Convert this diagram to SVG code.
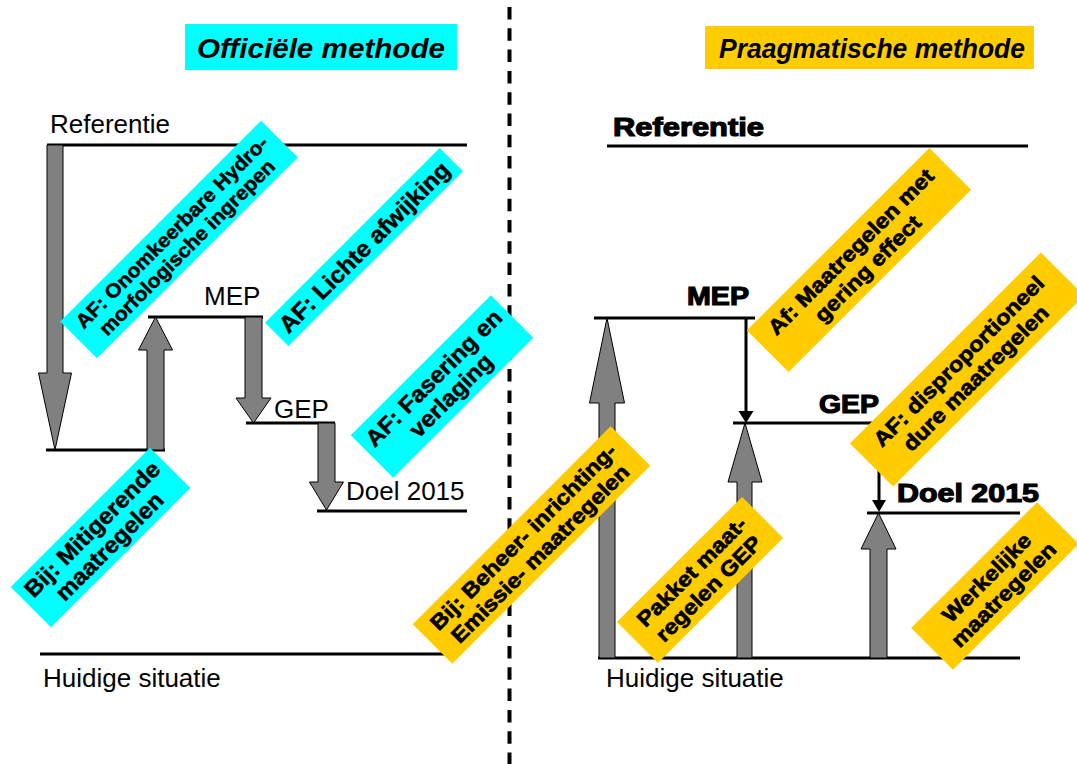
<svg xmlns="http://www.w3.org/2000/svg" width="1077" height="764" viewBox="0 0 1077 764">
  <style>
    .lvl { stroke: #000; stroke-width: 3; fill: none; }
    .thin { stroke: #000; stroke-width: 3; fill: none; }
    .gray { fill: #808080; stroke: #000; stroke-width: 1; }
    .cyan { fill: #00FFFF; }
    .yellow { fill: #FFCC00; }
    .txt { font-family: "Liberation Sans", Arial, sans-serif; font-size: 26px; fill: #000; }
    .head { font-family: "Liberation Sans", Arial, sans-serif; font-size: 26px; font-weight: bold; fill: #000; stroke: #000; stroke-width: 1.2; }
    .title { font-family: "Liberation Sans", Arial, sans-serif; font-size: 27px; font-weight: bold; font-style: italic; fill: #000; }
    .lbl { font-family: "Liberation Sans", Arial, sans-serif; font-weight: bold; fill: #000; stroke: #000; stroke-width: 0.5; text-anchor: middle; }
    .lblR { font-family: "Liberation Sans", Arial, sans-serif; font-weight: bold; font-size: 21px; fill: #000; stroke: #000; stroke-width: 0.7; text-anchor: middle; }
  </style>

  <!-- divider between the two methods -->
  <line x1="509.5" y1="7" x2="509.5" y2="764" stroke="#000" stroke-width="4" stroke-dasharray="12.5 8.8"/>

  <!-- titles -->
  <g id="title-officieel">
    <rect class="cyan" x="185" y="24" width="272" height="46"/>
    <text class="title" x="321" y="58" text-anchor="middle" textLength="248" lengthAdjust="spacingAndGlyphs">Officiële methode</text>
  </g>
  <g id="title-praagmatisch">
    <rect class="yellow" x="705" y="26" width="329" height="43"/>
    <text class="title" x="872" y="58" text-anchor="middle" textLength="306" lengthAdjust="spacingAndGlyphs">Praagmatische methode</text>
  </g>

  <!-- levels, left -->
  <g id="levels-left">
    <line class="lvl" x1="47" y1="145" x2="467" y2="145"/>
    <line class="lvl" x1="46" y1="450" x2="165" y2="450"/>
    <line class="lvl" x1="148" y1="317" x2="263" y2="317"/>
    <line class="lvl" x1="246" y1="423" x2="335" y2="423"/>
    <line class="lvl" x1="317" y1="511" x2="467" y2="511"/>
    <line class="lvl" x1="40" y1="654" x2="447" y2="654"/>
    <text class="txt" x="50" y="133">Referentie</text>
    <text class="txt" x="204" y="305">MEP</text>
    <text class="txt" x="274" y="418">GEP</text>
    <text class="txt" x="346" y="500">Doel 2015</text>
    <text class="txt" x="43" y="687">Huidige situatie</text>
  </g>

  <!-- levels, right -->
  <g id="levels-right">
    <line class="lvl" x1="607" y1="146" x2="1028" y2="146"/>
    <line class="lvl" x1="594" y1="318" x2="755" y2="318"/>
    <line class="lvl" x1="733" y1="423" x2="882" y2="423"/>
    <line class="lvl" x1="867" y1="513" x2="1020" y2="513"/>
    <line class="lvl" x1="598" y1="658" x2="1020" y2="658"/>
    <text class="head" x="613" y="136" textLength="151" lengthAdjust="spacingAndGlyphs">Referentie</text>
    <text class="head" x="687" y="305" textLength="62" lengthAdjust="spacingAndGlyphs">MEP</text>
    <text class="head" x="819" y="413" textLength="60" lengthAdjust="spacingAndGlyphs">GEP</text>
    <text class="head" x="897" y="502" textLength="142" lengthAdjust="spacingAndGlyphs">Doel 2015</text>
    <text class="txt" x="606" y="687">Huidige situatie</text>
  </g>

  <!-- arrows -->
  <g id="connectors">
    <polygon class="gray" points="47,145 63,145 63,373 71.5,373 55,450 38.5,373 47,373"/>
    <polygon class="gray" points="147,450 164,450 164,350 172.5,350 155.5,317 138.5,350 147,350"/>
    <polygon class="gray" points="245,317 262,317 262,398 271,398 253.5,423 236,398 245,398"/>
    <polygon class="gray" points="318,423 335,423 335,482 343.5,482 326.5,510 309.5,482 318,482"/>

    <polygon class="gray" points="599,658 615,658 615,403 624.5,403 607,318 589.5,403 599,403"/>
    <polygon class="gray" points="737,658 752,658 752,482 762,482 745,423 728,482 737,482"/>
    <polygon class="gray" points="870,658 887,658 887,549 896,549 878.5,513 861,549 870,549"/>

    <line class="thin" x1="746" y1="318" x2="746" y2="413"/>
    <polygon points="738.5,411 753.5,411 746,423" fill="#000"/>
    <line class="thin" x1="879" y1="423" x2="879" y2="502"/>
    <polygon points="872,500 886,500 879,512" fill="#000"/>
  </g>

  <!-- labels, official method -->
  <g id="lbl-onomkeerbaar" transform="translate(179,239.5) rotate(-45)">
    <rect class="cyan" x="-142" y="-26" width="284" height="52"/>
    <text class="lbl" font-size="20" transform="scale(1.05,1)"><tspan x="0" y="-3.5">AF: Onomkeerbare Hydro-</tspan><tspan x="0" y="18">morfologische ingrepen</tspan></text>
  </g>
  <g id="lbl-lichte" transform="translate(364,247) rotate(-45)">
    <rect class="cyan" x="-123.5" y="-16.5" width="247" height="33"/>
    <text class="lbl" font-size="23.5" x="0" y="8.5" transform="scale(1.04,1)">AF: Lichte afwijking</text>
  </g>
  <g id="lbl-fasering" transform="translate(442,386.5) rotate(-45)">
    <rect class="cyan" x="-99" y="-30" width="198" height="60"/>
    <text class="lbl" font-size="23" transform="scale(1.05,1)"><tspan x="0" y="-4">AF: Fasering en</tspan><tspan x="0" y="20.5">verlaging</tspan></text>
  </g>
  <g id="lbl-mitigerend" transform="translate(100.5,537.5) rotate(-45)">
    <rect class="cyan" x="-98.5" y="-28.5" width="197" height="57"/>
    <text class="lbl" font-size="23" transform="scale(1.05,1)"><tspan x="0" y="-4">Bij: Mitigerende</tspan><tspan x="0" y="20.5">maatregelen</tspan></text>
  </g>

  <!-- labels, pragmatic method -->
  <g id="lbl-gering" transform="translate(859,260) rotate(-45)">
    <rect class="yellow" x="-129" y="-29.5" width="258" height="59"/>
    <text class="lblR" transform="scale(1.12,1)"><tspan x="0" y="-4.5">Af: Maatregelen met</tspan><tspan x="0" y="19.5">gering effect</tspan></text>
  </g>
  <g id="lbl-dispro" transform="translate(967,369.5) rotate(-45)">
    <rect class="yellow" x="-135" y="-30.5" width="270" height="61"/>
    <text class="lblR" transform="scale(1.12,1)"><tspan x="0" y="-4.5">AF: disproportioneel</tspan><tspan x="0" y="19.5">dure maatregelen</tspan></text>
  </g>
  <g id="lbl-beheer" transform="translate(531.5,545) rotate(-45)">
    <rect class="yellow" x="-140" y="-28" width="280" height="56"/>
    <text class="lblR" transform="scale(1.12,1)"><tspan x="0" y="-4.5">Bij: Beheer- inrichting-</tspan><tspan x="0" y="19.5">Emissie- maatregelen</tspan></text>
  </g>
  <g id="lbl-pakket" transform="translate(700,580) rotate(-45)">
    <rect class="yellow" x="-88.5" y="-29" width="177" height="58"/>
    <text class="lblR" transform="scale(1.12,1)"><tspan x="0" y="-4.5">Pakket maat-</tspan><tspan x="0" y="19.5">regelen GEP</tspan></text>
  </g>
  <g id="lbl-werkelijk" transform="translate(995,586) rotate(-45)">
    <rect class="yellow" x="-89" y="-29.5" width="178" height="59"/>
    <text class="lblR" transform="scale(1.12,1)"><tspan x="0" y="-4.5">Werkelijke</tspan><tspan x="0" y="19.5">maatregelen</tspan></text>
  </g>
</svg>
